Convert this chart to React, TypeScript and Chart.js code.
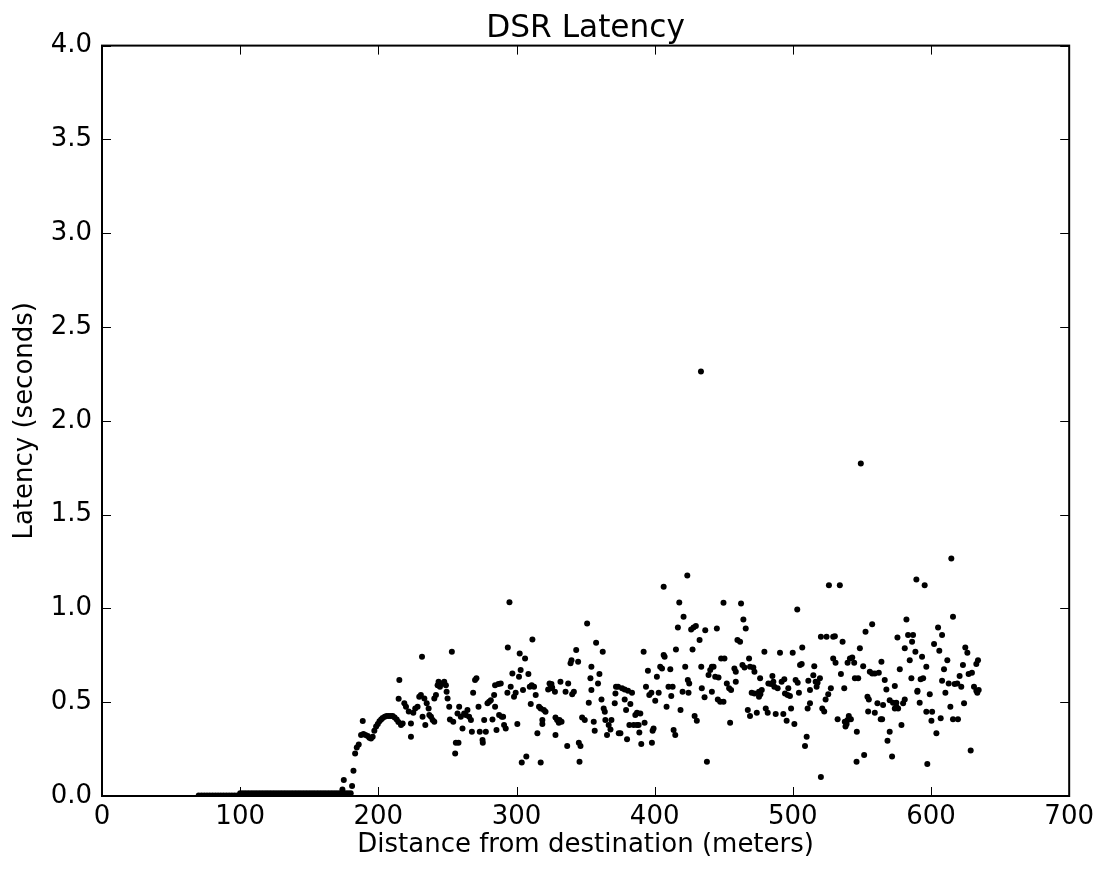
import { useEffect, useRef } from "react";
import { Chart, registerables } from "chart.js";

Chart.register(...registerables);

const chartTitle = "DSR Latency";
const xAxisLabel = "Distance from destination (meters)";
const yAxisLabel = "Latency (seconds)";
const xTickValues = [0, 100, 200, 300, 400, 500, 600, 700];
const yTickValues = [0, 0.5, 1, 1.5, 2, 2.5, 3, 3.5, 4];

// dense run of near-zero latencies (70 m .. 180 m)
const baselineDistance = [
  70, 72, 74, 76, 78, 80, 82, 84, 86, 88, 90, 92, 94, 96, 98,
  100, 102, 104, 106, 108, 110, 112, 114, 116, 118, 120, 122, 124, 126, 128,
  130, 132, 134, 136, 138, 140, 142, 144, 146, 148, 150, 152, 154, 156, 158,
  160, 162, 164, 166, 168, 170, 172, 174, 176, 178, 180,
];
const baselineLatency = [
  0.002, 0.002, 0.002, 0.002, 0.002, 0.002, 0.002, 0.002, 0.002, 0.002, 0.002, 0.002, 0.002, 0.002, 0.002,
  0.014, 0.014, 0.014, 0.014, 0.014, 0.014, 0.014, 0.014, 0.014, 0.014, 0.014, 0.014, 0.014, 0.014, 0.014,
  0.014, 0.014, 0.014, 0.014, 0.014, 0.014, 0.014, 0.014, 0.014, 0.014, 0.014, 0.014, 0.014, 0.014, 0.014,
  0.014, 0.014, 0.014, 0.014, 0.014, 0.014, 0.014, 0.014, 0.014, 0.014, 0.014,
];

// [distance m, latency s]
const rampPoints: [number, number][] = [
  [174.0, 0.034], [175.0, 0.085], [181.0, 0.053], [182.0, 0.135], [183.2, 0.227], [184.4, 0.258], [185.8, 0.275], [187.5, 0.325], [188.7, 0.4], [189.2, 0.33],
  [190.7, 0.325], [192.3, 0.32], [193.5, 0.31], [194.7, 0.307], [195.9, 0.316], [197.1, 0.348], [198.4, 0.37], [199.6, 0.384], [200.8, 0.398], [202.0, 0.408],
  [203.1, 0.416], [204.6, 0.423], [206.0, 0.426], [207.5, 0.426], [209.0, 0.426], [210.4, 0.426], [211.8, 0.419], [213.3, 0.408], [214.5, 0.394], [215.2, 0.618],
  [214.7, 0.519], [216.4, 0.378], [217.6, 0.387], [218.8, 0.494], [220.0, 0.476], [222.0, 0.45], [223.6, 0.387], [223.6, 0.316], [225.3, 0.444], [226.7, 0.467],
  [228.4, 0.476], [229.6, 0.529], [230.8, 0.538], [231.6, 0.742], [232.0, 0.423], [233.3, 0.52], [234.0, 0.378], [235.0, 0.494], [236.4, 0.467], [236.9, 0.432],
  [238.1, 0.423], [239.3, 0.405], [240.5, 0.396], [240.5, 0.52], [241.7, 0.538], [242.9, 0.591], [243.6, 0.609], [244.6, 0.582], [246.0, 0.6], [247.7, 0.609],
  [248.9, 0.591], [249.4, 0.556], [250.1, 0.52], [251.3, 0.476], [251.8, 0.408], [253.2, 0.769], [254.2, 0.396], [255.6, 0.227], [256.1, 0.284], [258.0, 0.284],
  [257.3, 0.44], [258.5, 0.476], [259.7, 0.423], [260.9, 0.36], [262.1, 0.44], [263.3, 0.432], [264.5, 0.458], [265.7, 0.423], [267.0, 0.405], [267.7, 0.343],
  [268.6, 0.55], [270.0, 0.618], [271.0, 0.627], [272.5, 0.476], [273.4, 0.343], [275.4, 0.298], [275.6, 0.284], [276.6, 0.405], [277.8, 0.343], [279.0, 0.494],
  [280.2, 0.503], [281.4, 0.511], [282.6, 0.408], [283.8, 0.538], [284.5, 0.591], [286.9, 0.597], [288.6, 0.6], [284.5, 0.476], [285.5, 0.352], [287.4, 0.432],
  [289.3, 0.423], [290.3, 0.423], [291.0, 0.378], [292.2, 0.36], [293.7, 0.792], [294.9, 1.033], [293.4, 0.55], [295.8, 0.582], [297.0, 0.653], [298.2, 0.529],
  [299.4, 0.55], [300.6, 0.384], [301.8, 0.636], [302.3, 0.76], [303.0, 0.671], [303.8, 0.178], [304.7, 0.565], [306.2, 0.733], [307.1, 0.21], [308.6, 0.65],
  [309.6, 0.582], [311.0, 0.591], [312.7, 0.582], [311.5, 0.834], [310.3, 0.49], [313.9, 0.538], [315.1, 0.334], [316.3, 0.476], [317.5, 0.467], [318.7, 0.405],
  [318.7, 0.384], [317.5, 0.178],
];

const midPoints: [number, number][] = [
  [319.8, 0.458], [321.0, 0.449], [322.9, 0.568], [324.6, 0.574], [325.8, 0.579], [323.9, 0.6], [325.3, 0.597], [327.8, 0.556], [328.2, 0.419], [329.4, 0.405],
  [330.6, 0.391], [332.6, 0.396], [331.1, 0.405], [328.2, 0.325], [331.8, 0.609], [335.5, 0.556], [336.7, 0.266], [337.4, 0.6], [340.3, 0.543], [341.5, 0.556],
  [339.1, 0.707], [339.8, 0.724], [343.2, 0.778], [344.6, 0.716], [345.1, 0.284], [346.3, 0.266], [345.6, 0.183], [347.5, 0.419], [349.4, 0.405], [351.1, 0.92],
  [352.3, 0.497], [353.5, 0.627], [354.2, 0.565], [354.2, 0.689], [355.9, 0.396], [356.6, 0.348], [357.6, 0.817], [359.0, 0.6], [360.0, 0.65], [361.5, 0.515],
  [362.4, 0.769], [363.1, 0.467], [363.9, 0.449], [364.3, 0.405], [365.5, 0.325], [366.7, 0.378], [368.0, 0.355], [368.7, 0.405], [371.1, 0.494], [372.0, 0.582],
  [373.5, 0.582], [371.6, 0.547], [374.0, 0.334], [375.2, 0.334], [376.4, 0.574], [378.3, 0.568], [380.7, 0.561], [383.6, 0.55], [378.3, 0.515], [380.0, 0.302],
  [379.3, 0.458], [381.7, 0.378], [384.8, 0.378], [387.2, 0.378], [388.4, 0.378], [382.4, 0.49], [386.0, 0.432], [387.2, 0.444], [389.6, 0.44], [388.9, 0.338],
  [390.3, 0.277], [392.0, 0.769], [392.7, 0.391], [393.7, 0.582], [395.1, 0.668], [396.1, 0.538], [397.6, 0.55], [398.0, 0.284], [399.2, 0.36], [398.5, 0.348],
  [400.4, 0.508], [401.6, 0.636], [402.9, 0.55], [404.0, 0.689], [405.3, 0.68], [406.5, 1.115], [406.5, 0.751], [407.2, 0.742], [408.6, 0.476], [410.0, 0.582],
  [413.0, 0.582], [411.3, 0.675], [412.0, 0.533], [413.7, 0.352], [414.9, 0.325], [415.4, 0.781], [416.8, 0.898], [417.8, 1.032], [418.7, 0.458], [420.2, 0.556],
  [420.9, 0.955], [422.1, 0.689], [423.6, 1.175], [424.0, 0.618], [425.0, 0.6], [424.5, 0.55], [426.4, 0.888], [428.1, 0.898], [429.8, 0.906], [427.4, 0.781],
  [428.9, 0.426], [430.5, 0.401], [432.5, 0.831], [433.7, 0.689], [434.1, 0.574], [436.1, 0.526], [436.6, 0.884], [437.8, 0.183], [439.0, 0.645], [440.2, 0.671],
  [441.4, 0.689], [442.6, 0.689], [443.8, 0.636], [446.2, 0.632], [441.4, 0.556], [445.0, 0.893], [445.7, 0.515], [447.4, 0.503], [449.8, 0.503], [448.1, 0.733],
  [450.5, 0.733], [449.8, 1.03], [452.2, 0.6], [453.9, 0.574], [455.3, 0.565], [454.6, 0.391], [457.7, 0.68], [458.7, 0.662], [459.9, 0.831],
];

const farPoints: [number, number][] = [
  [458.7, 0.609], [462.5, 1.026], [464.2, 0.941], [465.9, 0.893], [461.8, 0.822], [463.5, 0.698], [465.0, 0.685], [468.3, 0.733], [469.0, 0.689], [471.4, 0.685],
  [472.2, 0.662], [467.4, 0.458], [469.0, 0.426], [473.9, 0.444], [470.2, 0.55], [472.2, 0.547], [476.3, 0.627], [475.5, 0.556], [476.5, 0.543], [477.5, 0.565],
  [475.5, 0.529], [479.4, 0.769], [480.4, 0.467], [481.8, 0.444], [482.3, 0.6], [484.2, 0.597], [485.2, 0.64], [485.9, 0.609], [486.6, 0.583], [487.6, 0.437],
  [489.0, 0.574], [490.7, 0.764], [491.9, 0.609], [493.8, 0.622], [493.1, 0.437], [494.3, 0.547], [496.2, 0.538], [497.9, 0.533], [495.5, 0.401], [496.7, 0.574],
  [498.7, 0.467], [499.9, 0.764], [501.1, 0.384], [502.0, 0.618], [503.5, 0.604], [503.2, 0.994], [504.4, 0.55], [505.2, 0.698], [506.4, 0.703], [506.8, 0.792],
  [508.8, 0.267], [510.0, 0.316], [510.7, 0.467], [512.4, 0.494], [511.2, 0.614], [512.4, 0.565], [514.8, 0.644], [515.5, 0.692], [516.5, 0.609], [517.9, 0.604],
  [517.2, 0.583], [519.6, 0.627], [521.3, 0.467], [522.7, 0.45], [520.3, 0.101], [520.3, 0.849], [524.4, 0.849], [526.1, 1.124], [529.2, 0.849], [530.4, 0.852],
  [534.0, 1.124], [523.7, 0.515], [525.6, 0.543], [527.5, 0.574], [529.2, 0.733], [530.9, 0.71], [532.4, 0.409], [534.8, 0.65], [536.0, 0.822], [537.2, 0.574],
  [537.6, 0.396], [538.9, 0.384], [539.6, 0.405], [538.1, 0.37], [539.6, 0.71], [541.3, 0.733], [543.0, 0.738], [544.4, 0.71], [540.5, 0.426], [542.0, 0.409],
  [544.9, 0.627], [547.3, 0.627], [546.3, 0.343], [546.1, 0.183], [548.5, 0.787], [550.9, 0.692], [551.6, 0.219], [552.6, 0.875], [554.0, 0.529], [555.0, 0.515],
  [554.5, 0.45], [555.7, 0.662], [557.4, 0.653], [559.3, 0.653], [562.2, 0.657], [557.4, 0.916], [559.3, 0.444], [561.2, 0.494], [563.6, 0.409], [564.6, 0.409],
  [564.1, 0.716], [566.5, 0.618], [567.7, 0.568], [565.3, 0.485], [568.5, 0.295], [570.1, 0.343], [570.1, 0.511], [571.8, 0.21], [572.5, 0.497], [573.8, 0.467],
  [574.9, 0.476], [576.2, 0.467], [574.9, 0.497], [573.8, 0.586], [575.7, 0.845], [577.4, 0.675], [578.6, 0.378], [579.8, 0.494], [581.0, 0.515], [581.0, 0.787],
  [582.2, 0.941], [583.4, 0.858], [587.0, 0.858], [584.6, 0.724], [585.8, 0.627], [586.3, 0.822], [589.4, 1.154], [588.7, 0.769], [590.1, 0.556], [591.8, 0.497],
  [592.5, 0.622], [593.5, 0.742], [595.4, 1.124], [596.6, 0.689], [596.6, 0.449], [597.3, 0.171],
];

const tailPoints: [number, number][] = [
  [594.3, 0.627], [590.2, 0.561], [599.1, 0.543], [600.8, 0.449], [600.3, 0.401], [603.9, 0.334], [607.0, 0.414], [602.2, 0.81], [605.1, 0.898], [608.0, 0.858],
  [606.0, 0.774], [609.4, 0.675], [611.8, 0.724], [608.0, 0.614], [610.4, 0.55], [612.8, 0.6], [614.7, 1.266], [615.9, 0.955], [614.0, 0.476], [615.9, 0.409],
  [619.5, 0.409], [617.1, 0.597], [619.0, 0.6], [620.7, 0.639], [621.9, 0.583], [623.9, 0.494], [623.1, 0.698], [624.8, 0.792], [626.3, 0.764], [627.2, 0.65],
  [629.6, 0.657], [628.7, 0.242], [631.1, 0.583], [632.8, 0.561], [634.5, 0.565], [633.5, 0.551], [632.8, 0.703], [634.0, 0.724],
];

const outlierPoints: [number, number][] = [
  [433.5, 2.263], [549.2, 1.772],
];

const FONT = "'DejaVu Sans', sans-serif";

const framePlugin = {
  id: "mplFrame",
  afterLayout(chart: any) {
    // centre the title over the plotting area, as matplotlib does
    const tb = chart.titleBlock;
    if (tb) {
      tb.left = chart.chartArea.left;
      tb.right = chart.chartArea.right;
      tb.width = chart.chartArea.right - chart.chartArea.left;
    }
  },
  afterDraw(chart: any) {
    const { ctx, chartArea } = chart;
    const { left, top, right, bottom } = chartArea;
    const xs = chart.scales.x;
    const ys = chart.scales.y;
    const tl = 9;
    ctx.save();
    ctx.strokeStyle = "#000";
    ctx.lineWidth = 1;
    ctx.beginPath();
    for (const v of xTickValues) {
      const px = Math.round(xs.getPixelForValue(v)) + 0.5;
      ctx.moveTo(px, bottom);
      ctx.lineTo(px, bottom - tl);
      ctx.moveTo(px, top);
      ctx.lineTo(px, top + tl);
    }
    for (const v of yTickValues) {
      const py = Math.round(ys.getPixelForValue(v)) + 0.5;
      ctx.moveTo(left, py);
      ctx.lineTo(left + tl, py);
      ctx.moveTo(right, py);
      ctx.lineTo(right - tl, py);
    }
    ctx.stroke();
    ctx.lineWidth = 2;
    ctx.strokeRect(left, top, right - left, bottom - top);
    ctx.restore();
  },
};

export default function App() {
  const canvasRef = useRef<HTMLCanvasElement | null>(null);

  useEffect(() => {
    document.body.style.margin = "0";
    const canvas = canvasRef.current;
    if (!canvas) return;

    const data: { x: number; y: number }[] = [];
    baselineDistance.forEach((d, i) => data.push({ x: d, y: baselineLatency[i] }));
    for (const group of [rampPoints, midPoints, farPoints, tailPoints, outlierPoints]) {
      for (const [d, l] of group) data.push({ x: d, y: l });
    }

    const chart = new Chart(canvas, {
      type: "scatter",
      data: {
        datasets: [
          {
            label: "Latency",
            data,
            backgroundColor: "#000",
            borderColor: "#000",
            borderWidth: 0,
            pointRadius: 3,
            pointHoverRadius: 3,
            clip: 0,
          } as any,
        ],
      },
      options: {
        animation: false,
        responsive: false,
        devicePixelRatio: 1,
        layout: { padding: { left: 0, right: 29, top: 0, bottom: 0 } },
        plugins: {
          legend: { display: false },
          tooltip: { enabled: false },
          title: {
            display: true,
            text: chartTitle,
            color: "#000",
            font: { family: FONT, size: 31.2, weight: "normal", lineHeight: 1 },
            padding: { top: 13.5, bottom: 0.9 },
          },
        },
        scales: {
          x: {
            type: "linear",
            min: 0,
            max: 700,
            ticks: {
              stepSize: 100,
              color: "#000",
              font: { family: FONT, size: 26 },
              padding: 6,
              maxRotation: 0,
              autoSkip: false,
            },
            grid: { display: false, drawTicks: false },
            border: { display: false },
            title: {
              display: true,
              text: xAxisLabel,
              color: "#000",
              font: { family: FONT, size: 26 },
              padding: { top: 0, bottom: 12 },
            },
            afterFit(scale: any) {
              scale.height = 77;
            },
          },
          y: {
            type: "linear",
            min: 0,
            max: 4,
            ticks: {
              stepSize: 0.5,
              color: "#000",
              font: { family: FONT, size: 26 },
              padding: 10,
              autoSkip: false,
              callback: (v: any) => Number(v).toFixed(1),
            },
            grid: { display: false, drawTicks: false },
            border: { display: false },
            title: {
              display: true,
              text: yAxisLabel,
              color: "#000",
              font: { family: FONT, size: 26 },
              padding: { top: 10, bottom: 0 },
            },
            afterFit(scale: any) {
              scale.width = 102;
            },
          },
        },
      },
      plugins: [framePlugin],
    });

    return () => chart.destroy();
  }, []);

  return (
    <div style={{ position: "relative", width: 1100, height: 873 }}>
      <canvas ref={canvasRef} width={1100} height={873} />
    </div>
  );
}
